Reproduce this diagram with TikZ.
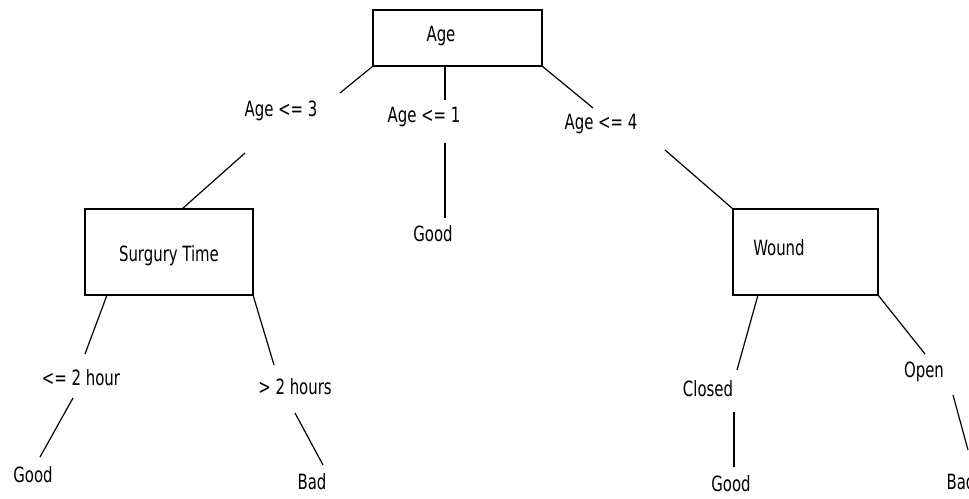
\documentclass[tikz,border=0pt]{standalone}
\usepackage{fontspec}
\setmainfont[FakeStretch=0.79]{DejaVu Sans Condensed}
\usetikzlibrary{calc}
\begin{document}
\begin{tikzpicture}[x=1pt,y=-1pt,
  box/.style={draw=black,line width=1.3pt,rectangle,inner sep=0pt,outer sep=0pt},
  txt/.style={inner sep=0pt,font=\fontsize{21}{21}\selectfont},
  conn/.style={draw=black,line width=1.2pt}]
\useasboundingbox (0,0) rectangle (969,498);
\clip (0,0) rectangle (969,498);
% boxes
\node[box,minimum width=169pt,minimum height=56pt] (age) at (457.5,38) {};
\draw[line width=2pt] (age.north west) -- (age.north east);
\node[box,minimum width=168pt,minimum height=86pt] (st) at (169,252) {};
\node[box,minimum width=145pt,minimum height=86pt] (wd) at (805.5,252) {};
% texts in boxes
\node[txt] (tage) at (441,36) {Age};
\node[txt] (tst) at (169,256) {Surgury Time};
\node[txt] (twd) at (779,248) {Wound};
% labels
\node[txt] (l3) at (281,111) {Age <= 3};
\node[txt] (l1) at (424,117) {Age <= 1};
\node[txt] (l4) at (601,124) {Age <= 4};
\node[txt] (g1) at (433,234) {Good};
\node[txt] (h1) at (81,378) {<= 2 hour};
\node[txt] (h2) at (295,387) {> 2 hours};
\node[txt] (g2) at (33,475) {Good};
\node[txt] (b1) at (312,482) {Bad};
\node[txt] (cl) at (708,389) {Closed};
\node[txt] (g3) at (731,484) {Good};
\node[txt] (op) at (924,372) {Open};
\node[txt] (b2) at (961,482) {Bad};
% coordinates for free ends
\coordinate (e1) at (340,93);
\coordinate (e2) at (245,153);
\coordinate (e3) at (445,100);
\coordinate (e4a) at (445,143);
\coordinate (e4b) at (445,218);
\coordinate (e5) at (593,108);
\coordinate (e6) at (665,150);
\coordinate (e7) at (85,354);
\coordinate (e8a) at (73,398);
\coordinate (e8b) at (40,457);
\coordinate (e9) at (274,365);
\coordinate (e10a) at (295,413);
\coordinate (e10b) at (323,465);
\coordinate (e11) at (737,370);
\coordinate (e12a) at (734,412);
\coordinate (e12b) at (734,467);
\coordinate (e13) at (925,354);
\coordinate (e14a) at (953,395);
\coordinate (e14b) at (968,450);
% connectors
\draw[conn] (age.south west) -- (e1);
\draw[conn] (e2) -- ($(st.north west)+(97,0)$);
\draw[conn] (age.south -| e3) -- (e3);
\draw[conn] (e4a) -- (e4b);
\draw[conn] (age.south east) -- (e5);
\draw[conn] (e6) -- (wd.north west);
\draw[conn] ($(st.south west)+(22,0)$) -- (e7);
\draw[conn] (e8a) -- (e8b);
\draw[conn] (st.south east) -- (e9);
\draw[conn] (e10a) -- (e10b);
\draw[conn] ($(wd.south west)+(25,0)$) -- (e11);
\draw[conn] (e12a) -- (e12b);
\draw[conn] (wd.south east) -- (e13);
\draw[conn] (e14a) -- (e14b);
\end{tikzpicture}
\end{document}
